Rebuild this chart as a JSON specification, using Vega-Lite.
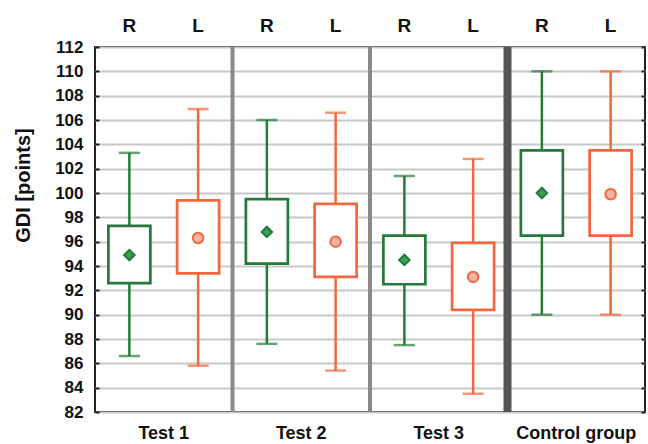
{
  "$schema": "https://vega.github.io/schema/vega-lite/v6.json",
  "width": 550,
  "height": 365,
  "autosize": {"type": "none"},
  "padding": {"left": 95, "top": 47, "right": 3, "bottom": 32},
  "background": "white",
  "config": {
    "font": "Liberation Sans",
    "view": {"stroke": "#222222", "strokeWidth": 2}
  },
  "datasets": {
    "stats": [
      {"group": "Test 1", "side": "R", "cat": "Test 1|R", "lo": 86.6, "q1": 92.6, "mean": 94.9, "q3": 97.3, "hi": 103.3},
      {"group": "Test 1", "side": "L", "cat": "Test 1|L", "lo": 85.8, "q1": 93.4, "mean": 96.3, "q3": 99.4, "hi": 106.9},
      {"group": "Test 2", "side": "R", "cat": "Test 2|R", "lo": 87.6, "q1": 94.2, "mean": 96.8, "q3": 99.5, "hi": 106.0},
      {"group": "Test 2", "side": "L", "cat": "Test 2|L", "lo": 85.4, "q1": 93.1, "mean": 96.0, "q3": 99.1, "hi": 106.6},
      {"group": "Test 3", "side": "R", "cat": "Test 3|R", "lo": 87.5, "q1": 92.5, "mean": 94.5, "q3": 96.5, "hi": 101.4},
      {"group": "Test 3", "side": "L", "cat": "Test 3|L", "lo": 83.5, "q1": 90.4, "mean": 93.1, "q3": 95.9, "hi": 102.8},
      {"group": "Control group", "side": "R", "cat": "Control group|R", "lo": 90.0, "q1": 96.5, "mean": 100.0, "q3": 103.5, "hi": 110.0},
      {"group": "Control group", "side": "L", "cat": "Control group|L", "lo": 90.0, "q1": 96.5, "mean": 99.9, "q3": 103.5, "hi": 110.0}
    ],
    "thinSeps": [{"cat": "Test 2|R"}, {"cat": "Test 3|R"}],
    "thickSeps": [{"cat": "Control group|R"}]
  },
  "data": {"name": "stats"},
  "resolve": {"axis": {"x": "independent", "y": "independent"}},
  "layer": [
    {
      "data": {"name": "thinSeps"},
      "mark": {"type": "rule", "color": "#8a8a8a", "strokeWidth": 4},
      "encoding": {
        "x": {"field": "cat", "type": "nominal", "bandPosition": 0, "axis": null,
              "scale": {"domain": ["Test 1|R", "Test 1|L", "Test 2|R", "Test 2|L", "Test 3|R", "Test 3|L", "Control group|R", "Control group|L"], "paddingInner": 0, "paddingOuter": 0}}
      }
    },
    {
      "data": {"name": "thickSeps"},
      "mark": {"type": "rule", "color": "#555555", "strokeWidth": 8},
      "encoding": {
        "x": {"field": "cat", "type": "nominal", "bandPosition": 0, "axis": null}
      }
    },
    {
      "mark": {"type": "rule", "strokeWidth": 2.5},
      "encoding": {
        "x": {"field": "cat", "type": "nominal",
              "axis": {"orient": "top", "title": null, "labelExpr": "split(datum.value, '|')[1]", "ticks": false, "domain": false,
                       "labelAngle": 0, "labelFont": "Liberation Sans", "labelFontWeight": "bold", "labelFontSize": 19, "labelColor": "#111111", "labelPadding": 12}},
        "y": {"field": "lo", "type": "quantitative",
              "scale": {"domain": [82, 112], "nice": false, "zero": false},
              "axis": {"orient": "left", "values": [82,84,86,88,90,92,94,96,98,100,102,104,106,108,110,112],
                       "grid": true, "gridColor": "#c8c8c8", "gridWidth": 2, "domain": false,
                       "ticks": true, "tickSize": -4, "tickColor": "#222222", "tickWidth": 2,
                       "labelFont": "Liberation Sans", "labelFontWeight": "bold", "labelFontSize": 17, "labelColor": "#111111", "labelPadding": 16,
                       "title": "GDI [points]", "titleFont": "Liberation Sans", "titleFontWeight": "bold", "titleFontSize": 20, "titleColor": "#111111",
                       "titleX": -62, "titleY": 138}},
        "y2": {"field": "hi"},
        "color": {"field": "side", "type": "nominal", "scale": {"domain": ["R", "L"], "range": ["#237a3a", "#f2683c"]}, "legend": null}
      }
    },
    {
      "mark": {"type": "bar", "width": 42, "fill": "white", "strokeWidth": 2.7},
      "encoding": {
        "x": {"field": "cat", "type": "nominal", "axis": null},
        "y": {"field": "q1", "type": "quantitative",
              "axis": {"orient": "right", "values": [82,84,86,88,90,92,94,96,98,100,102,104,106,108,110,112],
                       "grid": false, "domain": false, "labels": false, "title": null,
                       "ticks": true, "tickSize": -4, "tickColor": "#222222", "tickWidth": 2}},
        "y2": {"field": "q3"},
        "stroke": {"field": "side", "type": "nominal", "scale": {"domain": ["R", "L"], "range": ["#237a3a", "#f2683c"]}, "legend": null}
      }
    },
    {
      "mark": {"type": "tick", "orient": "horizontal", "size": 21, "thickness": 2.5},
      "encoding": {
        "x": {"field": "cat", "type": "nominal", "axis": null},
        "y": {"field": "hi", "type": "quantitative", "axis": null},
        "color": {"field": "side", "type": "nominal", "legend": null}
      }
    },
    {
      "mark": {"type": "tick", "orient": "horizontal", "size": 21, "thickness": 2.5},
      "encoding": {
        "x": {"field": "cat", "type": "nominal", "axis": null},
        "y": {"field": "lo", "type": "quantitative", "axis": null},
        "color": {"field": "side", "type": "nominal", "legend": null}
      }
    },
    {
      "mark": {"type": "point", "filled": true, "size": 110, "strokeWidth": 2, "opacity": 1},
      "encoding": {
        "x": {"field": "cat", "type": "nominal", "axis": null},
        "y": {"field": "mean", "type": "quantitative", "axis": null},
        "shape": {"field": "side", "type": "nominal", "scale": {"domain": ["R", "L"], "range": ["diamond", "circle"]}, "legend": null},
        "fill": {"field": "side", "type": "nominal", "scale": {"domain": ["R", "L"], "range": ["#3f9d55", "#f4b3a5"]}, "legend": null},
        "stroke": {"field": "side", "type": "nominal", "legend": null}
      }
    },
    {
      "transform": [{"filter": "datum.side == 'L'"}],
      "mark": {"type": "text", "font": "Liberation Sans", "fontWeight": "bold", "fontSize": 18, "color": "#111111", "baseline": "middle", "align": "center", "dy": 22, "clip": false},
      "encoding": {
        "x": {"field": "cat", "type": "nominal", "bandPosition": 0, "axis": null},
        "y": {"datum": 82, "type": "quantitative", "axis": null},
        "text": {"field": "group"}
      }
    }
  ]
}
